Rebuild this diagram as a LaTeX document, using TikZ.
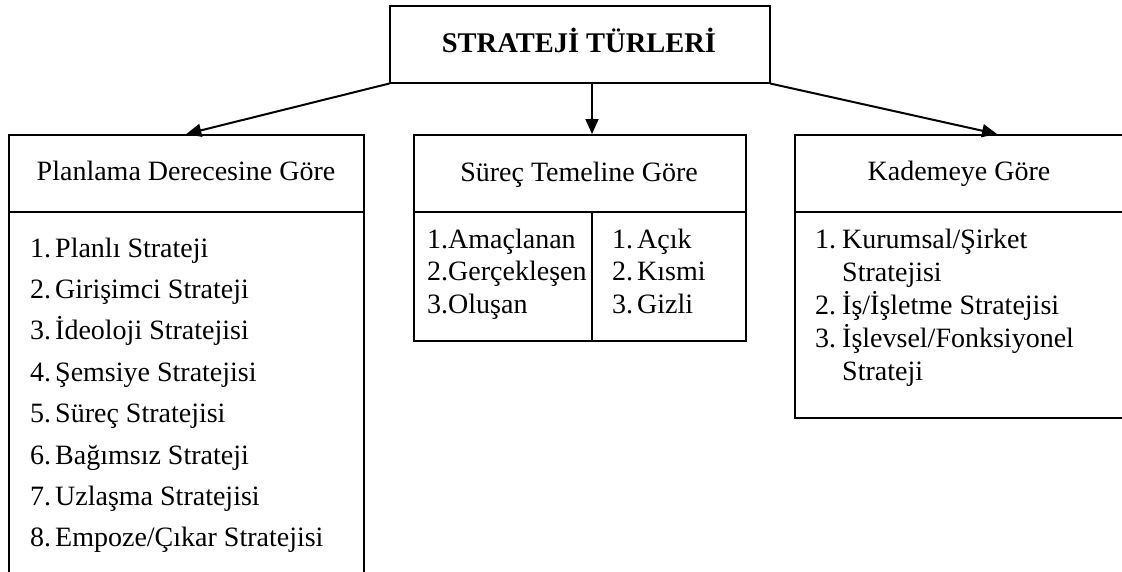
\documentclass[tikz,border=0pt]{standalone}
\usepackage{fontspec}
\setmainfont{Liberation Serif}
\usetikzlibrary{arrows.meta}
\begin{document}
\begin{tikzpicture}[x=1pt,y=-1pt,
  box/.style={draw, line width=1.6pt, rectangle, inner sep=0pt, anchor=north west},
  lbl/.style={font=\fontsize{28}{30}\selectfont, inner sep=0pt},
  itm/.style={font=\fontsize{28}{30}\selectfont, inner sep=0pt, anchor=base west},
  arr/.style={line width=2pt, -{Triangle[length=15pt,width=13pt]}, shorten <=-0.5pt}
]
\clip (0,0) rectangle (1122,571);
\fill[white] (0,0) rectangle (1122,571);

% title
\node[box, minimum width=380pt, minimum height=77pt] (title) at (389,5) {};
\node[lbl, font=\fontsize{28.5}{30}\selectfont\bfseries, anchor=base] (titletxt) at (579,52) {STRATEJİ TÜRLERİ};

% left column: planning degree
\node[box, minimum width=355pt, minimum height=77pt] (planhead) at (8,134) {};
\node[lbl, anchor=base] (plantxt) at (186,180) {Planlama Derecesine Göre};
\node[box, minimum width=355pt, minimum height=380pt] (planbody) at (8,211) {};
\foreach \n/\t [count=\i from 0] in {1/Planlı Strateji, 2/Girişimci Strateji, 3/İdeoloji Stratejisi, 4/Şemsiye Stratejisi, 5/Süreç Stratejisi, 6/Bağımsız Strateji, 7/Uzlaşma Stratejisi, 8/Empoze\slash Çıkar Stratejisi}{
  \node[itm] (pn\n) at (30,257+41.4*\i) {\n.};
  \node[itm] (pt\n) at (55,257+41.4*\i) {\t};
}

% middle column: process basis
\node[box, minimum width=332pt, minimum height=77pt] (surhead) at (413,134) {};
\node[lbl, anchor=base] (surtxt) at (579,181) {Süreç Temeline Göre};
\node[box, minimum width=332pt, minimum height=129pt] (surbody) at (413,211) {};
\coordinate (divtop) at (592,211);
\coordinate (divbot) at (592,340);
\draw[line width=1.6pt] (divtop) -- (divbot);
\foreach \n/\t [count=\i from 0] in {1/Amaçlanan, 2/Gerçekleşen, 3/Oluşan}{
  \node[itm] (sl\n) at (427,248+32.5*\i) {\n.\t};
}
\foreach \n/\t [count=\i from 0] in {1/Açık, 2/Kısmi, 3/Gizli}{
  \node[itm] (rn\n) at (612,248+32.5*\i) {\n.};
  \node[itm] (rt\n) at (637,248+32.5*\i) {\t};
}

% right column: level
\node[box, minimum width=330pt, minimum height=77pt] (kadhead) at (794,134) {};
\node[lbl, anchor=base] (kadtxt) at (959,180) {Kademeye Göre};
\node[box, minimum width=330pt, minimum height=206pt] (kadbody) at (794,211) {};
\node[itm] (kn1) at (815,248) {1.};
\node[itm] (kt1) at (842,248) {Kurumsal/Şirket};
\node[itm] (kt1b) at (842,281) {Stratejisi};
\node[itm] (kn2) at (815,314) {2.};
\node[itm] (kt2) at (842,314) {İş/İşletme Stratejisi};
\node[itm] (kn3) at (815,347) {3.};
\node[itm] (kt3) at (842,347) {İşlevsel/Fonksiyonel};
\node[itm] (kt3b) at (842,380) {Strateji};

% connectors
\coordinate (midtop) at (592,82);
\coordinate (midtip) at (592,134);
\coordinate (kadtip) at (997,134);
\draw[arr] (title.south west) -- (planhead.north);
\draw[arr] (midtop) -- (midtip);
\draw[arr] (title.south east) -- (kadtip);
\end{tikzpicture}
\end{document}
